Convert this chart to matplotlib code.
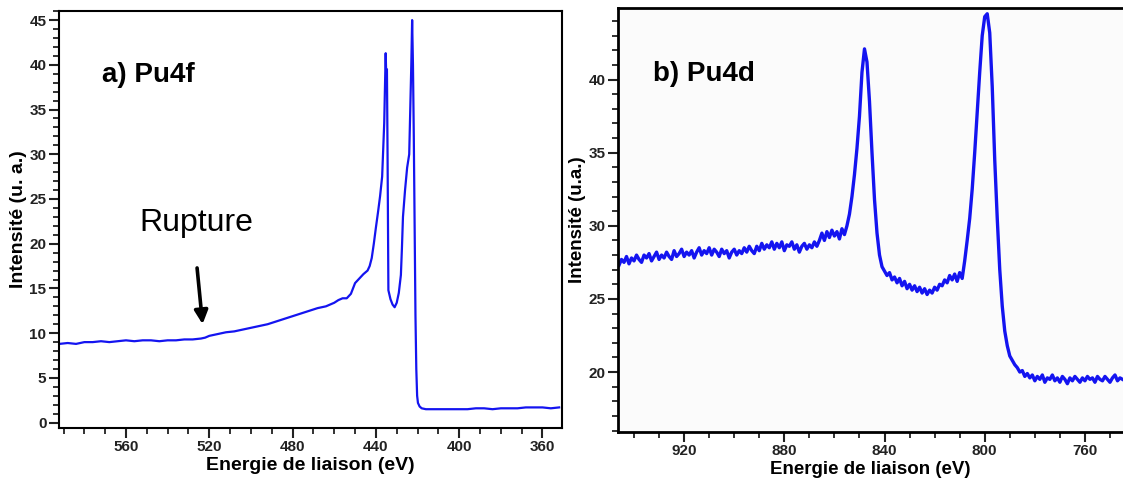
import matplotlib
matplotlib.use("Agg")
import matplotlib.pyplot as plt
from matplotlib.ticker import MultipleLocator

plt.rcParams['font.family'] = ['Liberation Sans', 'DejaVu Sans']

# Pu4f spectrum (panel a), binding energy in eV, intensity in a.u.
pu4f_energy = [592, 588, 584, 580, 576, 572, 568, 564, 560, 556, 552, 548, 544, 540,
               536, 532, 528, 524, 522, 520, 516, 512, 508, 504, 500, 496, 492, 488,
               484, 480, 476, 472, 468, 464, 460, 458, 456, 454, 452, 451, 450, 448,
               446, 444, 443, 442, 441, 440, 439, 438, 437, 436.5, 436, 435.6, 435.3,
               435.0, 434.7, 434.4, 434.0, 433.5, 433, 432, 431, 430, 429, 428, 427.5,
               427, 426, 425, 424, 423.5, 423.0, 422.6, 422.2, 421.8, 421.4, 421.0,
               420.6, 420.2, 419.8, 419, 418, 416, 412, 408, 404, 400, 396, 392, 388,
               384, 380, 376, 372, 368, 364, 360, 356, 352]
pu4f_intensity = [8.8, 8.9, 8.8, 9.0, 9.0, 9.1, 9.0, 9.1, 9.2, 9.1, 9.2, 9.2, 9.1, 9.2,
                  9.2, 9.3, 9.3, 9.4, 9.5, 9.7, 9.9, 10.1, 10.2, 10.4, 10.6, 10.8, 11.0, 11.3,
                  11.6, 11.9, 12.2, 12.5, 12.8, 13.0, 13.4, 13.7, 13.9, 13.9, 14.4, 15.0, 15.6, 16.1,
                  16.6, 17.0, 17.5, 18.4, 20.0, 21.8, 23.5, 25.3, 27.5, 30.5, 33.5, 38.0, 41.3,
                  38.5, 39.5, 30.0, 14.8, 14.3, 13.8, 13.2, 12.9, 13.4, 14.5, 16.5, 19.5,
                  23.0, 26.0, 28.5, 30.0, 35.0, 40.0, 45.0, 40.0, 32.0, 22.0, 12.0,
                  6.0, 3.0, 2.2, 1.8, 1.6, 1.5, 1.5, 1.5, 1.5, 1.5, 1.5, 1.6, 1.6,
                  1.5, 1.6, 1.6, 1.6, 1.7, 1.7, 1.7, 1.6, 1.7]

# Pu4d spectrum (panel b), read at 1 eV steps on the flat parts
pu4d_energy_high = list(range(946, 855, -1))          # 946 .. 856
pu4d_int_high = [27.3, 27.7, 27.5, 27.9, 27.4, 27.8, 27.6, 28.0, 27.7, 27.5,
                 28.0, 27.8, 28.1, 27.6, 27.9, 28.2, 27.7, 28.0, 27.8, 28.2,
                 27.9, 27.7, 28.3, 27.9, 28.1, 28.4, 27.9, 28.2, 28.0, 28.3,
                 27.8, 28.2, 28.5, 28.0, 28.3, 28.1, 28.5, 28.0, 28.4, 28.2,
                 27.9, 28.4, 28.1, 28.3, 27.8, 28.2, 28.4, 28.0, 28.3, 28.1,
                 28.5, 28.2, 28.6, 28.3, 28.1, 28.6, 28.3, 28.8, 28.4, 28.7,
                 28.5, 28.9, 28.4, 28.8, 28.5, 28.9, 28.3, 28.7, 28.6, 28.9,
                 28.4, 28.7, 28.2, 28.6, 28.8, 28.4, 28.7, 28.5, 28.9, 28.6,
                 29.0, 29.5, 29.0, 29.6, 29.2, 29.7, 29.3, 29.6, 29.1, 29.8,
                 29.4]
pu4d_energy_p1 = [855, 854, 853, 852, 851, 850, 849, 848, 847, 846, 845, 844, 843]
pu4d_int_p1 = [30.0, 30.8, 32.0, 33.5, 35.3, 37.5, 40.5, 42.1, 41.2, 38.5, 35.0, 31.8, 29.5]
pu4d_energy_mid = list(range(842, 807, -1))           # 842 .. 808
pu4d_int_mid = [28.0, 27.2, 26.9, 26.6, 26.8, 26.3, 26.5, 26.1, 26.4, 25.9,
                26.2, 25.7, 26.0, 25.6, 25.9, 25.5, 25.8, 25.4, 25.7, 25.3,
                25.6, 25.4, 25.8, 25.6, 26.0, 25.9, 26.3, 26.1, 26.6, 26.3,
                26.7, 26.2, 26.8, 26.4, 27.6]
pu4d_energy_p2 = [807, 806, 805, 804, 803, 802, 801, 800, 799, 798, 797, 796, 795,
                  794, 793, 792, 791]
pu4d_int_p2 = [29.0, 30.5, 32.5, 35.0, 37.8, 40.5, 43.0, 44.3, 44.5, 43.2, 39.5, 34.5,
               30.5, 27.0, 24.5, 22.8, 21.8]
pu4d_energy_low = list(range(790, 743, -1))           # 790 .. 744
pu4d_int_low = [21.1, 20.8, 20.5, 20.3, 20.0, 20.1, 19.7, 19.9, 19.6, 19.8,
                19.4, 19.7, 19.5, 19.8, 19.3, 19.6, 19.5, 19.8, 19.4, 19.6,
                19.3, 19.7, 19.5, 19.2, 19.6, 19.4, 19.7, 19.5, 19.3, 19.6,
                19.4, 19.7, 19.5, 19.6, 19.3, 19.7, 19.5, 19.4, 19.7, 19.5,
                19.3, 19.6, 19.8, 19.4, 19.6, 19.5, 19.4]

pu4d_energy = pu4d_energy_high + pu4d_energy_p1 + pu4d_energy_mid + pu4d_energy_p2 + pu4d_energy_low
pu4d_intensity = pu4d_int_high + pu4d_int_p1 + pu4d_int_mid + pu4d_int_p2 + pu4d_int_low

LINE_COLOR = '#1414f0'
TICK_COLOR = '#222222'

fig = plt.figure(figsize=(11.23, 4.83), dpi=100)

# ---- panel a) Pu4f
ax1 = fig.add_axes([0.0525, 0.1139, 0.448, 0.863])
ax1.plot(pu4f_energy, pu4f_intensity, color=LINE_COLOR, lw=1.6)
ax1.set_xlim(592.2, 350.6)
ax1.set_ylim(-0.6, 46.0)
ax1.xaxis.set_major_locator(MultipleLocator(40))
ax1.xaxis.set_minor_locator(MultipleLocator(10))
ax1.yaxis.set_major_locator(MultipleLocator(5))
ax1.yaxis.set_minor_locator(MultipleLocator(1))
ax1.set_xlabel("Energie de liaison (eV)", fontsize=14, fontweight='bold', labelpad=2)
ax1.set_ylabel("Intensité (u. a.)", fontsize=14, fontweight='bold', labelpad=2)
ax1.text(571.6, 38.9, "a) Pu4f", fontsize=20, fontweight='bold', va='center', ha='left')
ax1.text(526.4, 22.3, "Rupture", fontsize=23, va='center', ha='center')
ax1.annotate("", xy=(523.1, 10.7), xytext=(526.0, 17.6),
             arrowprops=dict(arrowstyle='-|>', color='black', lw=2.6, mutation_scale=20))

# ---- panel b) Pu4d
ax2 = fig.add_axes([0.5503, 0.1056, 0.4497, 0.878], facecolor='#fbfbfb')
ax2.plot(pu4d_energy, pu4d_intensity, color=LINE_COLOR, lw=2.4)
ax2.set_xlim(946.4, 744.8)
ax2.set_ylim(15.9, 44.9)
ax2.xaxis.set_major_locator(MultipleLocator(40))
ax2.xaxis.set_minor_locator(MultipleLocator(10))
ax2.yaxis.set_major_locator(MultipleLocator(5))
ax2.yaxis.set_minor_locator(MultipleLocator(1))
ax2.spines['right'].set_visible(False)
ax2.set_xlabel("Energie de liaison (eV)", fontsize=13.5, fontweight='bold', labelpad=2)
ax2.set_ylabel("Intensité (u.a.)", fontsize=13.5, fontweight='bold', labelpad=2)
ax2.text(932.4, 40.4, "b) Pu4d", fontsize=20, fontweight='bold', va='center', ha='left')

for ax, sw in ((ax1, 1.5), (ax2, 2.0)):
    for s in ax.spines.values():
        s.set_linewidth(sw)
    ax.tick_params(which='major', direction='out', length=7, width=1.5,
                   labelsize=11, colors=TICK_COLOR, pad=2)
    ax.tick_params(which='minor', direction='out', length=4, width=1.3, colors=TICK_COLOR)
    for lab in ax.get_xticklabels() + ax.get_yticklabels():
        lab.set_fontweight('bold')

fig.savefig("out.png", dpi=100)
